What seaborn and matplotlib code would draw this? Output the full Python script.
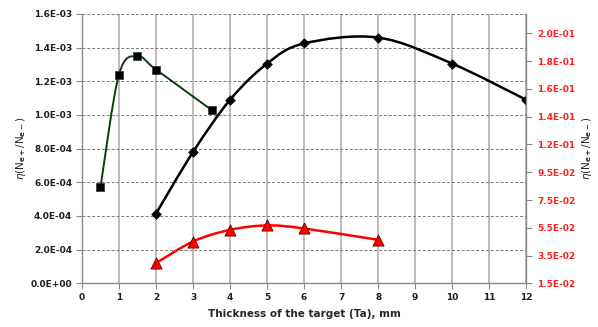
import numpy as np
import matplotlib
matplotlib.use('Agg')
import matplotlib.pyplot as plt
import seaborn as sns
from matplotlib.path import Path
from matplotlib.patches import PathPatch
from matplotlib.ticker import FormatStrFormatter

# data
sq_x = [0.5, 1, 1.5, 2, 3.5]
sq_y = [5.7e-4, 1.24e-3, 1.35e-3, 1.27e-3, 1.03e-3]

dia_x = [2, 3, 4, 5, 6, 8, 10, 12]
dia_y = [4.14e-4, 7.8e-4, 1.09e-3, 1.305e-3, 1.425e-3, 1.46e-3, 1.305e-3, 1.09e-3]

tri_x = [2, 3, 4, 5, 6, 8]
tri_y = [0.0295, 0.0451, 0.0535, 0.0567, 0.0545, 0.0463]

right_ticks = [0.015, 0.035, 0.055, 0.075, 0.095, 0.115, 0.135, 0.155, 0.175, 0.195]
right_labels = ['1.5E-02', '3.5E-02', '5.5E-02', '7.5E-02', '9.5E-02',
                '1.2E-01', '1.4E-01', '1.6E-01', '1.8E-01', '2.0E-01']

ylabel = r'$\eta$(N$_{\mathbf{e+}}$/N$_{\mathbf{e-}}$)'


def smooth_path(x, y):
    # Excel-like smoothed line: cubic bezier segments through the points
    p = np.column_stack([x, y]).astype(float)
    ext = np.vstack([p[0], p, p[-1]])
    verts = [p[0]]
    codes = [Path.MOVETO]
    for i in range(len(p) - 1):
        p0, p1, p2, p3 = ext[i], ext[i + 1], ext[i + 2], ext[i + 3]
        c1 = p1 + (p2 - p0) / 6
        c2 = p2 - (p3 - p1) / 6
        verts += [c1, c2, p2]
        codes += [Path.CURVE4] * 3
    return Path(verts, codes)


sns.set_style('white')
plt.rcParams['font.family'] = ['DejaVu Sans']

fig = plt.figure(figsize=(5.98, 3.27), dpi=100)
ax = fig.add_axes([0.137, 0.1336, 0.743, 0.8236])
ax2 = ax.twinx()

ax.set_xlim(0, 12)
ax.set_ylim(0, 1.6e-3)
ax2.set_ylim(0.015, 0.209)

# grid
for xv in range(0, 13):
    ax.axvline(xv, color='#bcbcbc', lw=1.4, zorder=0)
for yv in np.arange(0.2e-3, 1.61e-3, 0.2e-3):
    ax.axhline(yv, color='#7a7a7a', lw=0.7, ls=(0, (3, 2)), zorder=0.5)

# lines
ax.add_patch(PathPatch(smooth_path(sq_x, sq_y), fill=False, edgecolor='#0f3a0f', lw=1.4, zorder=2))
ax.add_patch(PathPatch(smooth_path(dia_x, dia_y), fill=False, edgecolor='black', lw=1.8, zorder=2))
ax2.add_patch(PathPatch(smooth_path(tri_x, tri_y), fill=False, edgecolor='#ff0000', lw=1.8, zorder=2))

# markers
sns.scatterplot(x=sq_x, y=sq_y, ax=ax, marker='s', s=38, color='black', edgecolor='#303030', linewidth=0.5, zorder=3)
sns.scatterplot(x=dia_x, y=dia_y, ax=ax, marker='D', s=24, color='black', edgecolor='black', linewidth=0.5, zorder=3)
sns.scatterplot(x=tri_x, y=tri_y, ax=ax2, marker='^', s=64, color='#ff0000', edgecolor='#600000', linewidth=0.6, zorder=3)

# axes styling
for a in (ax, ax2):
    for s in a.spines.values():
        s.set_visible(False)
ax.spines['left'].set_visible(True)
ax.spines['bottom'].set_visible(True)
ax2.spines['right'].set_visible(True)
for s in (ax.spines['left'], ax.spines['bottom'], ax2.spines['right']):
    s.set_color('#8a8a8a')
    s.set_linewidth(1.0)

ax.set_xticks(range(0, 13))
ax.set_yticks(np.arange(0, 1.61e-3, 0.2e-3))
ax.yaxis.set_major_formatter(FormatStrFormatter('%.1E'))
ax2.set_yticks(right_ticks)
ax2.set_yticklabels(right_labels)

ax.tick_params(axis='both', which='major', direction='out', length=4, width=0.8,
               color='#8a8a8a', labelsize=6.5, labelcolor='#1e1e28', pad=3,
               left=True, bottom=True)
ax2.tick_params(axis='y', direction='out', length=4, width=0.8, color='#8a8a8a',
                labelsize=6.5, labelcolor='#ff2020', pad=4, right=True)
for lab in ax.get_xticklabels() + ax.get_yticklabels() + ax2.get_yticklabels():
    lab.set_fontweight('bold')

ax.set_xlabel('Thickness of the target (Ta), mm', fontsize=7.5, fontweight='bold', labelpad=5)
ax.set_ylabel(ylabel, fontsize=7.5, labelpad=2)
ax2.set_ylabel(ylabel, fontsize=7.5, labelpad=3)

fig.savefig('out.png', dpi=100)
